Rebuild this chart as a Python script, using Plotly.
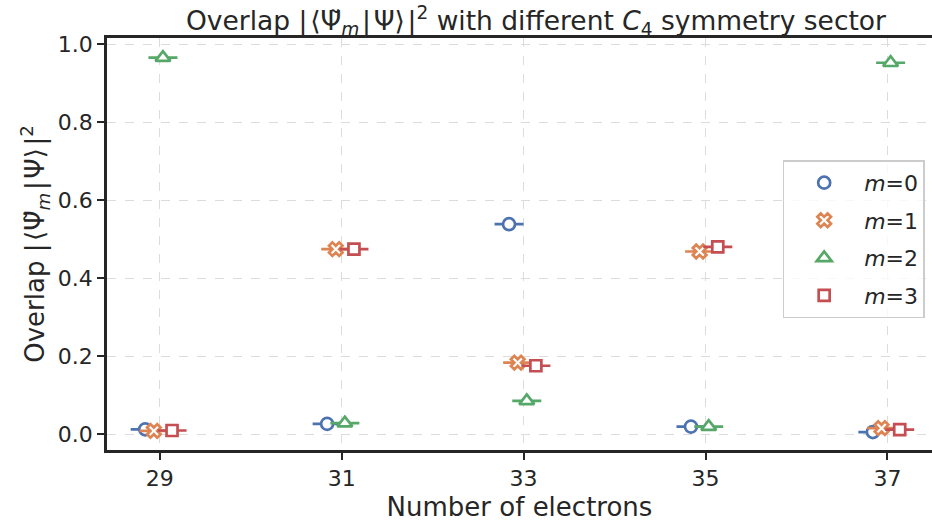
import plotly.graph_objects as go

# ---- data ----
n_electrons = [29, 31, 33, 35, 37]
overlap_m0 = [0.012, 0.026, 0.538, 0.019, 0.005]
overlap_m1 = [0.008, 0.474, 0.183, 0.468, 0.015]
overlap_m2 = [0.965, 0.028, 0.085, 0.019, 0.952]
overlap_m3 = [0.009, 0.474, 0.175, 0.480, 0.011]
err_m = [0.0, 0.0, 0.0, 0.0, 0.0]
series_labels = ["<i>m</i>=0", "<i>m</i>=1", "<i>m</i>=2", "<i>m</i>=3"]
tick_vals = [29, 31, 33, 35, 37]
tick_text = ["29", "31", "33", "35", "37"]

# ---- style ----
colors = ["#4C72B0", "#DD8452", "#55A868", "#C44E52"]
symbols = ["circle", "x", "triangle-up", "square"]
sizes = [12, 12, 13, 11]
dodge = [-0.16, -0.065, 0.035, 0.135]
TXT = "#262626"
FONT = "DejaVu Sans"
PSI_T = "Ψ\u0303"
HS = "\u200a"  # hair space, mimics math spacing
MATH = "|" + HS + "⟨" + PSI_T + "<sub><i>m</i></sub>" + HS + "|" + HS + "Ψ⟩" + HS + "|<sup>2</sup>"

fig = go.Figure()
for vals, lab, c, s, sz, d in zip(
    [overlap_m0, overlap_m1, overlap_m2, overlap_m3],
    series_labels, colors, symbols, sizes, dodge,
):
    fig.add_trace(go.Scatter(
        x=[n + d for n in n_electrons],
        y=vals,
        mode="markers",
        name=lab,
        legendgroup=lab,
        marker=dict(symbol=s, size=sz, color="white",
                    line=dict(color=c, width=2.7)),
        error_y=dict(type="data", array=err_m, visible=True,
                     color=c, thickness=2.7, width=14.5),
    ))

W, H = 932, 527
L, R, T, B = 107, 0, 38, 77

fig.update_layout(
    width=W, height=H,
    margin=dict(l=L, r=R, t=T, b=B),
    paper_bgcolor="white", plot_bgcolor="white",
    font=dict(family=FONT, color=TXT, size=22),
    title=dict(
        text="Overlap " + MATH + " with different <i>C</i><sub>4</sub> symmetry sector",
        font=dict(size=26.5, color=TXT, family=FONT),
        x=0.52, xref="paper", xanchor="center",
        y=1 - 21 / H, yref="container", yanchor="middle",
    ),
    showlegend=True,
    legend=dict(
        x=0.819, y=0.703, xanchor="left", yanchor="top",
        bgcolor="rgba(255,255,255,0.8)", bordercolor="#cccccc", borderwidth=1.5,
        font=dict(size=22, color=TXT, family=FONT),
        tracegroupgap=6, itemwidth=70,
    ),
    xaxis=dict(
        range=[28.42, 37.49],
        tickmode="array", tickvals=tick_vals, ticktext=tick_text,
        showline=True, linecolor=TXT, linewidth=2.5, mirror=True,
        ticks="outside", ticklen=7, tickwidth=2, tickcolor=TXT,
        tickfont=dict(size=22, color=TXT),
        showgrid=True, gridcolor="#dcdcdc", gridwidth=1, griddash="dash",
        zeroline=False,
        title=dict(text="Number of electrons", font=dict(size=26, color=TXT), standoff=8),
    ),
    yaxis=dict(
        range=[-0.041, 1.0154],
        tickmode="array", tickvals=[0, 0.2, 0.4, 0.6, 0.8, 1.0],
        ticktext=["0.0", "0.2", "0.4", "0.6", "0.8", "1.0"],
        showline=True, linecolor=TXT, linewidth=2.5, mirror=False,
        ticks="outside", ticklen=7, tickwidth=2, tickcolor=TXT,
        tickfont=dict(size=22, color=TXT),
        showgrid=True, gridcolor="#dcdcdc", gridwidth=1, griddash="dash",
        zeroline=False,
        title=dict(text="Overlap " + MATH, font=dict(size=26, color=TXT), standoff=6),
    ),
)

fig.write_html("out.html")
